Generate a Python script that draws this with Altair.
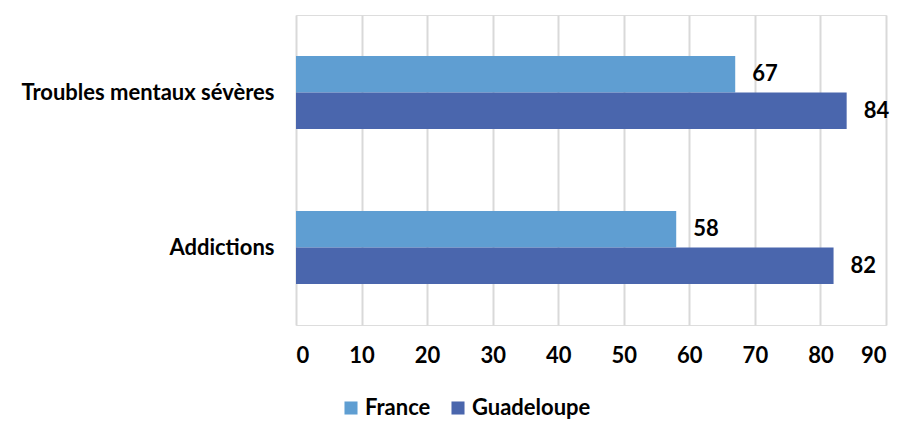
import altair as alt
import pandas as pd

categories = ["Troubles mentaux sévères", "Addictions"]
series = ["France", "Guadeloupe"]
france = [67, 58]
guadeloupe = [84, 82]
colors = ["#5F9ED2", "#4A66AD"]

rows = []
for i, c in enumerate(categories):
    rows.append({"cat": c, "serie": "France", "val": france[i]})
    rows.append({"cat": c, "serie": "Guadeloupe", "val": guadeloupe[i]})
df = pd.DataFrame(rows)

FONT = "Lato"
FS = 22

y = alt.Y("cat:N", sort=categories, title=None,
          scale=alt.Scale(paddingInner=0.529, paddingOuter=0.2645),
          axis=alt.Axis(domain=False, ticks=False, labelFontSize=FS, labelFont=FONT,
                        labelFontWeight="bold", labelColor="#000000", labelPadding=22,
                        labelLimit=400))
yoff = alt.YOffset("serie:N", sort=series,
                   scale=alt.Scale(paddingInner=0.0, paddingOuter=0.0))
x = alt.X("val:Q", title=None,
          scale=alt.Scale(domain=[0, 90], nice=False),
          axis=alt.Axis(values=list(range(0, 91, 10)), domain=False, ticks=False,
                        grid=True, gridColor="#D9D9D9", gridWidth=2,
                        labelFontSize=FS, labelFont=FONT, labelFontWeight="bold",
                        labelColor="#000000", labelPadding=20))
color = alt.Color("serie:N", sort=series,
                  scale=alt.Scale(domain=series, range=colors),
                  legend=alt.Legend(title=None, orient="none", direction="horizontal",
                                    legendX=44, legendY=382, symbolType="square",
                                    symbolSize=170, symbolStrokeWidth=0,
                                    labelFontSize=FS, labelFont=FONT,
                                    labelFontWeight="bold", labelColor="#000000",
                                    columnPadding=16, labelOffset=3))

bars = alt.Chart(df).mark_bar().encode(y=y, yOffset=yoff, x=x, color=color)
labels = alt.Chart(df).mark_text(align="left", baseline="middle", dx=17,
                                 fontSize=FS, font=FONT, fontWeight="bold",
                                 color="#000000").encode(
    y=y, yOffset=yoff, x=x, text=alt.Text("val:Q"))

chart = (bars + labels).properties(
    width=590, height=310,
    autosize=alt.AutoSizeParams(type="none"),
    padding={"left": 296, "top": 15, "right": 14, "bottom": 96},
).configure_view(stroke=None).configure(background="white")

chart.save("out.html", embed_options={"renderer": "svg", "actions": False})
